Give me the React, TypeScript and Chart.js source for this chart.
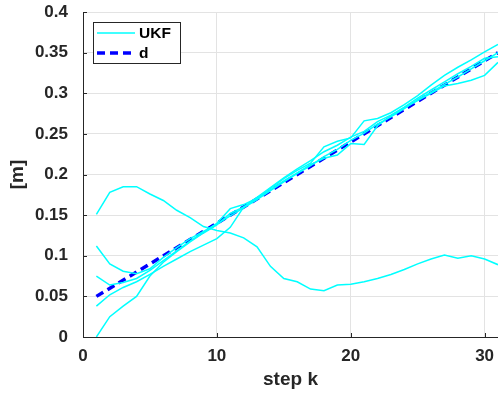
import React, { useEffect, useRef } from "react";
import { Chart, registerables } from "chart.js";

Chart.register(...registerables);

const steps = [1, 2, 3, 4, 5, 6, 7, 8, 9, 10, 11, 12, 13, 14, 15, 16, 17, 18, 19, 20, 21, 22, 23, 24, 25, 26, 27, 28, 29, 30, 31];

const ukfRun1 = [0.151, 0.178, 0.185, 0.185, 0.176, 0.168, 0.156, 0.147, 0.136, 0.131, 0.128, 0.122, 0.111, 0.087, 0.072, 0.068, 0.059, 0.057, 0.064, 0.065, 0.068, 0.072, 0.077, 0.083, 0.090, 0.096, 0.101, 0.097, 0.100, 0.096, 0.089];
const ukfRun2 = [0.112, 0.090, 0.081, 0.078, 0.084, 0.098, 0.110, 0.121, 0.130, 0.139, 0.149, 0.159, 0.169, 0.180, 0.191, 0.201, 0.211, 0.222, 0.231, 0.242, 0.251, 0.262, 0.271, 0.281, 0.292, 0.301, 0.311, 0.320, 0.330, 0.340, 0.350];
const ukfRun3 = [0.075, 0.064, 0.067, 0.072, 0.082, 0.094, 0.106, 0.118, 0.129, 0.140, 0.158, 0.163, 0.171, 0.183, 0.195, 0.205, 0.214, 0.234, 0.241, 0.245, 0.266, 0.269, 0.276, 0.286, 0.297, 0.310, 0.322, 0.332, 0.341, 0.351, 0.360];
const ukfRun4 = [0.038, 0.052, 0.061, 0.068, 0.077, 0.087, 0.096, 0.105, 0.113, 0.121, 0.135, 0.160, 0.170, 0.181, 0.192, 0.202, 0.212, 0.220, 0.224, 0.238, 0.237, 0.260, 0.272, 0.282, 0.291, 0.300, 0.309, 0.312, 0.316, 0.322, 0.338];
const ukfRun5 = [0.000, 0.025, 0.038, 0.050, 0.075, 0.092, 0.105, 0.117, 0.128, 0.138, 0.152, 0.160, 0.172, 0.184, 0.196, 0.207, 0.217, 0.228, 0.236, 0.246, 0.253, 0.265, 0.273, 0.283, 0.294, 0.304, 0.314, 0.324, 0.333, 0.343, 0.345];

const dSteps = [1, 31];
const dValues = [0.05, 0.35];

const xTicks = [0, 10, 20, 30];
const yTicks = [0, 0.05, 0.1, 0.15, 0.2, 0.25, 0.3, 0.35, 0.4];

const TEXT = "#262626";
const FONT = "'Liberation Sans', Arial, Helvetica, sans-serif";

const toPoints = (xs: number[], ys: number[]) => xs.map((x, i) => ({ x, y: ys[i] }));

const inwardTicks = {
  id: "inwardTicks",
  afterDraw(chart: any) {
    const { ctx, chartArea, scales } = chart;
    ctx.save();
    ctx.strokeStyle = TEXT;
    ctx.lineWidth = 1;
    const len = 4;
    xTicks.forEach((v) => {
      const px = Math.round(scales.x.getPixelForValue(v)) + 0.5;
      ctx.beginPath();
      ctx.moveTo(px, chartArea.bottom);
      ctx.lineTo(px, chartArea.bottom - len);
      ctx.stroke();
    });
    yTicks.forEach((v) => {
      const py = Math.round(scales.y.getPixelForValue(v)) + 0.5;
      ctx.beginPath();
      ctx.moveTo(chartArea.left, py);
      ctx.lineTo(chartArea.left + len, py);
      ctx.stroke();
    });
    ctx.restore();
  },
};

const boxLegend = {
  id: "boxLegend",
  afterDraw(chart: any) {
    const { ctx } = chart;
    const ds = chart.data.datasets;
    const entries = [ds[0], ds[ds.length - 1]];
    const bx = 93.5, by = 22.5, bw = 87, bh = 41;
    ctx.save();
    ctx.fillStyle = "#ffffff";
    ctx.fillRect(bx, by, bw, bh);
    ctx.strokeStyle = TEXT;
    ctx.lineWidth = 1;
    ctx.strokeRect(bx, by, bw, bh);
    const rows = [33, 53];
    entries.forEach((d: any, i: number) => {
      const y = rows[i];
      ctx.beginPath();
      ctx.strokeStyle = d.borderColor;
      ctx.lineWidth = d.borderWidth;
      ctx.setLineDash(d.borderDash || []);
      ctx.moveTo(97, y);
      ctx.lineTo(135, y);
      ctx.stroke();
      ctx.setLineDash([]);
      ctx.fillStyle = "#000000";
      ctx.font = `bold 15.5px ${FONT}`;
      ctx.textBaseline = "middle";
      ctx.textAlign = "left";
      ctx.fillText(d.label, 139, y + 1);
    });
    ctx.restore();
  },
};

export default function App() {
  const ref = useRef<HTMLCanvasElement>(null);

  useEffect(() => {
    if (!ref.current) return;
    const runs = [ukfRun1, ukfRun2, ukfRun3, ukfRun4, ukfRun5];
    const datasets: any[] = runs.map((r) => ({
      label: "UKF",
      data: toPoints(steps, r),
      borderColor: "#00FFFF",
      backgroundColor: "#00FFFF",
      borderWidth: 1.5,
      pointRadius: 0,
      tension: 0,
      fill: false,
    }));
    datasets.push({
      label: "d",
      data: toPoints(dSteps, dValues),
      borderColor: "#0000FF",
      backgroundColor: "#0000FF",
      borderWidth: 3.5,
      borderDash: [8, 5],
      pointRadius: 0,
      fill: false,
    });

    const chart = new Chart(ref.current, {
      type: "line",
      data: { datasets },
      options: {
        animation: false,
        responsive: false,
        maintainAspectRatio: false,
        layout: { padding: { top: 12, right: 0, left: 0, bottom: 0 } },
        plugins: { legend: { display: false }, tooltip: { enabled: false } },
        scales: {
          x: {
            type: "linear",
            min: 0,
            max: 31,
            afterBuildTicks: (s: any) => {
              s.ticks = xTicks.map((v) => ({ value: v }));
            },
            afterFit: (s: any) => {
              s.height = 60;
              s.paddingLeft = 0;
              s.paddingRight = 0;
            },
            grid: { color: "#e3e3e3", drawTicks: false },
            border: { color: TEXT, width: 1 },
            ticks: {
              color: TEXT,
              font: { family: FONT, size: 17, weight: "bold" },
              padding: 9,
              maxRotation: 0,
            },
            title: {
              display: true,
              text: "step k",
              color: TEXT,
              font: { family: FONT, size: 19, weight: "bold" },
              padding: { top: 0, bottom: 6 },
            },
          },
          y: {
            type: "linear",
            min: 0,
            max: 0.4,
            afterBuildTicks: (s: any) => {
              s.ticks = yTicks.map((v) => ({ value: v }));
            },
            afterFit: (s: any) => {
              s.width = 83;
              s.paddingTop = 0;
              s.paddingBottom = 0;
            },
            grid: { color: "#e3e3e3", drawTicks: false },
            border: { color: TEXT, width: 1 },
            ticks: {
              color: TEXT,
              font: { family: FONT, size: 17, weight: "bold" },
              padding: 15,
              callback: (v: any) => String(+Number(v).toFixed(2)),
            },
            title: {
              display: true,
              text: "[m]",
              color: TEXT,
              font: { family: FONT, size: 19, weight: "bold" },
              padding: { top: 6, bottom: 0 },
            },
          },
        },
      },
      plugins: [inwardTicks, boxLegend],
    });
    return () => chart.destroy();
  }, []);

  return (
    <div style={{ position: "fixed", left: 0, top: 0, width: 498, height: 397, background: "#fff" }}>
      <canvas ref={ref} width={498} height={397} style={{ width: 498, height: 397, display: "block" }} />
    </div>
  );
}
